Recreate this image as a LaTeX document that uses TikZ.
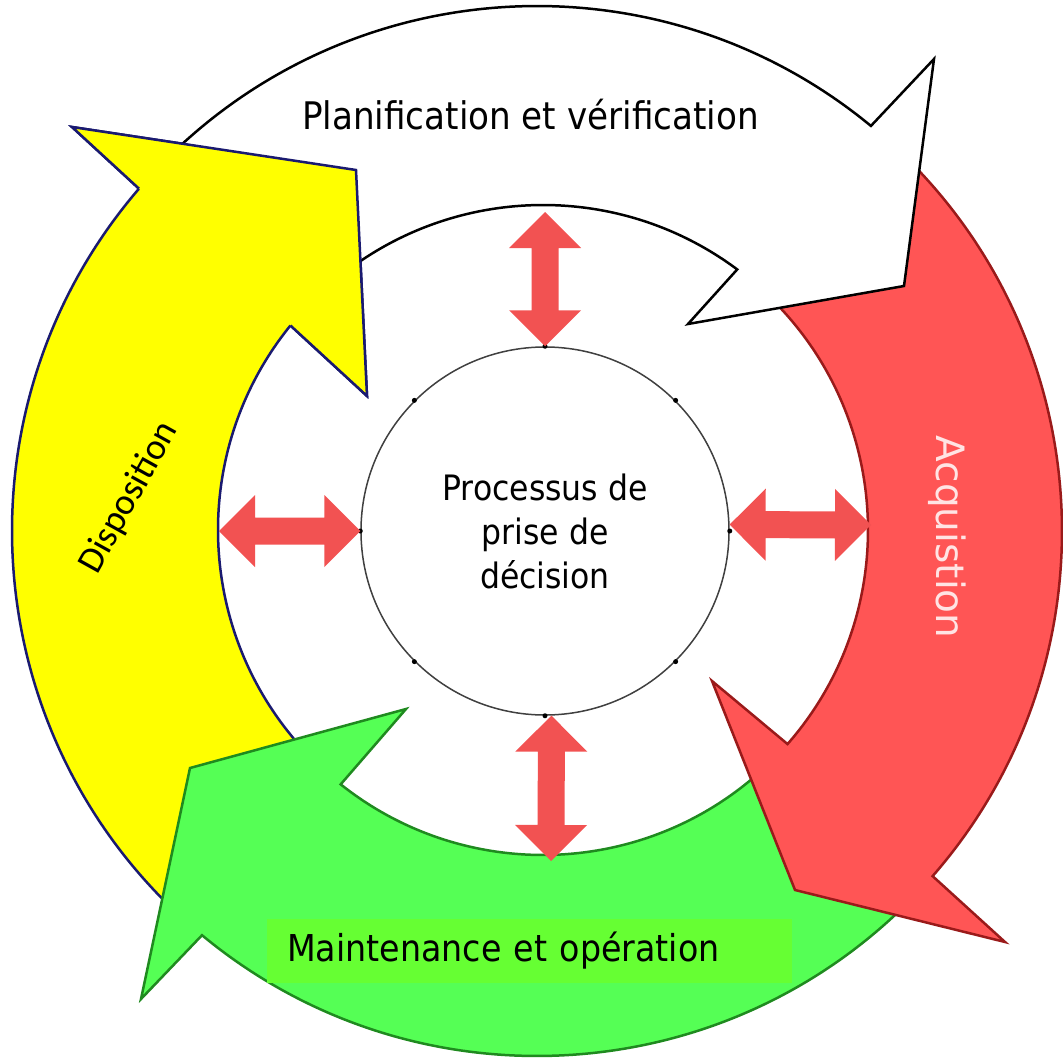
\documentclass[tikz,border=0pt]{standalone}
\usepackage{fontspec}
\setmainfont{DejaVu Sans Condensed}
\newfontfamily\acqfont{DejaVu Sans}
\newfontfamily\dispfont{Carlito}
\usetikzlibrary{calc}
\definecolor{yellowF}{HTML}{FFFF00}
\definecolor{yellowD}{HTML}{1A1A70}
\definecolor{redF}{HTML}{FF5555}
\definecolor{redD}{HTML}{9A1A1A}
\definecolor{greenF}{HTML}{55FF55}
\definecolor{greenD}{HTML}{1F8A1F}
\definecolor{labelG}{HTML}{66FF33}
\definecolor{arrowRed}{HTML}{F25252}
\definecolor{acqText}{HTML}{FFE4E4}
\definecolor{circGray}{HTML}{404040}
\newcommand\dblarr[2]{%
  \fill[dblarrow] (#1)
    -- ($(#1)!36pt!(#2)!36pt!90:(#2)$)
    -- ($(#1)!36pt!(#2)!13.5pt!90:(#2)$)
    -- ($(#2)!36pt!(#1)!13.5pt!-90:(#1)$)
    -- ($(#2)!36pt!(#1)!36pt!-90:(#1)$)
    -- (#2)
    -- ($(#2)!36pt!(#1)!36pt!90:(#1)$)
    -- ($(#2)!36pt!(#1)!13.5pt!90:(#1)$)
    -- ($(#1)!36pt!(#2)!13.5pt!-90:(#2)$)
    -- ($(#1)!36pt!(#2)!36pt!-90:(#2)$)
    -- cycle;}
\tikzset{
  ring/.style={line width=2.5pt, line join=miter, miter limit=20},
  yarrow/.style={ring, fill=yellowF, draw=yellowD},
  garrow/.style={ring, fill=greenF, draw=greenD},
  rarrow/.style={ring, fill=redF, draw=redD},
  warrow/.style={ring, fill=white, draw=black},
  dblarrow/.style={fill=arrowRed},
}
\begin{document}
\begin{tikzpicture}[x=1pt,y=-1pt]
\useasboundingbox[fill=white] (0,0) rectangle (1063,1062);
\coordinate (Co) at (537,531);
\coordinate (Ci) at (543,530);

% yellow (Disposition)
\coordinate (yOB) at (72,127);
\coordinate (yTip) at (356,170);
\coordinate (yIB) at (367,396);
\coordinate (yON) at ($(Co)+(220.7:525)$);
\coordinate (yIN) at ($(Ci)+(219:325)$);
\path[yarrow] ($(Co)+(133:525)$) arc[start angle=133,end angle=220.7,radius=525]
  -- (yOB) -- (yTip) -- (yIB) -- (yIN) arc[start angle=219,end angle=133,radius=325] -- cycle;

% green (Maintenance)
\coordinate (gOB) at (141,999);
\coordinate (gTip) at (190,768);
\coordinate (gIB) at (406,709);
\coordinate (gON) at ($(Co)+(129.65:525)$);
\coordinate (gIN) at ($(Ci)+(128.5:325)$);
\path[garrow] ($(Co)+(45:525)$) arc[start angle=45,end angle=129.65,radius=525]
  -- (gOB) -- (gTip) -- (gIB) -- (gIN) arc[start angle=128.5,end angle=45,radius=325] -- cycle;

% red (Acquisition)
\coordinate (rOB) at (1005,942);
\coordinate (rTip) at (795,890);
\coordinate (rIB) at (712,681);
\coordinate (rON) at ($(Co)+(41.1:525)$);
\coordinate (rIN) at ($(Ci)+(41.2:325)$);
\path[rarrow] ($(Co)+(-48:525)$) arc[start angle=-48,end angle=41.1,radius=525]
  -- (rOB) -- (rTip) -- (rIB) -- (rIN) arc[start angle=41.2,end angle=-48,radius=325] -- cycle;

% white (Planification)
\coordinate (wOB) at (934,59);
\coordinate (wTip) at (904,286);
\coordinate (wIB) at (688,324);
\coordinate (wON) at ($(Co)+(309.5:525)$);
\coordinate (wIN) at ($(Ci)+(306.7:325)$);
\path[warrow] ($(Co)+(225:525)$) arc[start angle=225,end angle=309.5,radius=525]
  -- (wOB) -- (wTip) -- (wIB) -- (wIN) arc[start angle=306.7,end angle=225,radius=325] -- cycle;

% yellow head over the white tail
\fill[yellowF] (yON) -- (yOB) -- (yTip) -- (yIB) -- (yIN) -- cycle;
\draw[ring, draw=yellowD] (yON) -- (yOB) -- (yTip) -- (yIB) -- (yIN);

% centre
\node[circle, draw=circGray, line width=1.5pt, fill=white, minimum size=368pt, inner sep=0pt,
      align=center, font=\fontsize{35}{44}\selectfont] (dec) at (545,531)
      {Processus de\\prise de\\décision};
\foreach \a in {0,45,...,315} \fill[black] (dec.\a) circle[radius=2.5pt];

\coordinate (topEnd) at (545,212);
\coordinate (leftEnd) at (219,531);
\coordinate (rightEnd) at (871,525);
\coordinate (botEnd) at (551,861);
\dblarr{dec.north}{topEnd}
\dblarr{dec.west}{leftEnd}
\dblarr{dec.2}{rightEnd}
\dblarr{dec.-88}{botEnd}

% labels
\node[anchor=base, font=\fontsize{38}{44}\selectfont] (plan) at (530.5,129.8)
  {Planification et vérification};
\node[rotate=-90, text=acqText, font=\acqfont\fontsize{39}{44}\selectfont] (acq) at (947,537)
  {Acquistion};
\node[rotate=61, font=\dispfont\fontsize{37}{44}\selectfont] (disp) at (129,498)
  {Disposition};
\node[fill=labelG, anchor=west, minimum height=64pt, text width=485pt, inner xsep=20pt,
      inner ysep=0pt, align=left, font=\fontsize{37}{44}\selectfont] (maint) at (267,951)
  {Maintenance et opération};
\end{tikzpicture}
\end{document}
